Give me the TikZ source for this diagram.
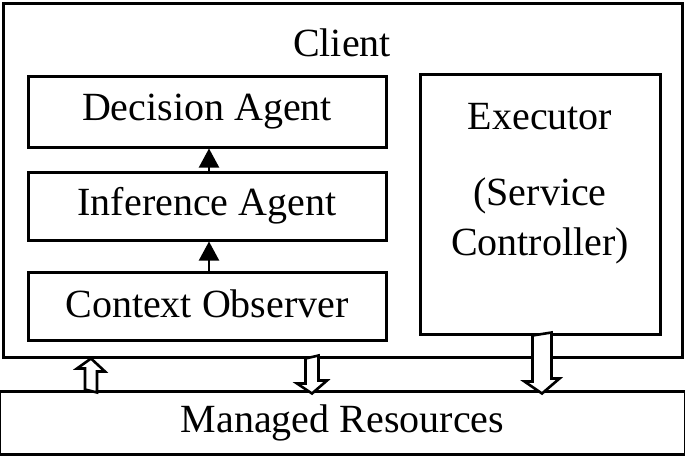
\documentclass[tikz,border=0pt]{standalone}
\usepackage{fontspec}
\setmainfont{Liberation Serif}
\usetikzlibrary{arrows.meta,calc}
\begin{document}
\begin{tikzpicture}[x=1pt,y=-1pt,
  box/.style={draw,line width=3pt,inner sep=0pt},
  big/.style={font=\fontsize{40}{46}\selectfont},
  lbl/.style={inner sep=0pt,big},
  hollow/.style={draw,line width=2.6pt,fill=white,line join=miter},
  thinarrow/.style={line width=2pt,-{Triangle[width=20pt,length=19pt]}}]
\useasboundingbox (0,0) rectangle (685,456);
\node[box,minimum width=679pt,minimum height=354pt] (client) at (342.5,180) {};
\node[box,big,minimum width=686pt,minimum height=63pt] (res) at (342.5,422.5) {Managed Resources};
\node[lbl] (clientlbl) at (342,43) {Client};
\node[box,big,minimum width=358pt,minimum height=71pt] (dec) at (207,111.5) {Decision Agent};
\node[box,big,minimum width=358pt,minimum height=68pt] (inf) at (207,206) {Inference Agent};
\node[box,big,minimum width=358pt,minimum height=68pt] (ctx) at (207,306) {\raisebox{4pt}{Context Observer}};
\node[box,minimum width=240pt,minimum height=260pt] (exec) at (540,204) {};
\node[lbl] (e1) at (540,117) {Executor};
\node[lbl] (e2) at (540,196) {(Service};
\node[lbl] (e3) at (540,246) {Controller)};
\draw[thinarrow] ([xshift=2pt]ctx.north) -- ([xshift=2pt]inf.south);
\draw[thinarrow] ([xshift=2pt]inf.north) -- ([xshift=2pt]dec.south);
\coordinate (a1) at (91,0);
\coordinate (a2) at (312,0);
\coordinate (a3) at (542,0);
% up arrow res -> client
\draw[hollow] (res.north -| a1) ++(-6,0) -- ++(0,-21) -- ++(-8,0) -- (client.south -| a1) -- ++(14,13) -- ++(-8,0) -- ++(0,21) -- cycle;
% down arrow client -> res
\draw[hollow] (client.south -| a2) ++(-6.5,0) -- ++(0,25) -- ++(-8.5,0) -- ([yshift=-4pt]res.north -| a2) -- ++(15,-13) -- ++(-8.5,0) -- ++(0,-25) -- cycle;
% down arrow exec -> res
\draw[hollow] (exec.south -| a3) ++(-9.5,0) -- ++(0,46) -- ++(-8,0) -- ([yshift=-4pt]res.north -| a3) -- ++(17.5,-15) -- ++(-8,0) -- ++(0,-46) -- cycle;
\end{tikzpicture}
\end{document}
